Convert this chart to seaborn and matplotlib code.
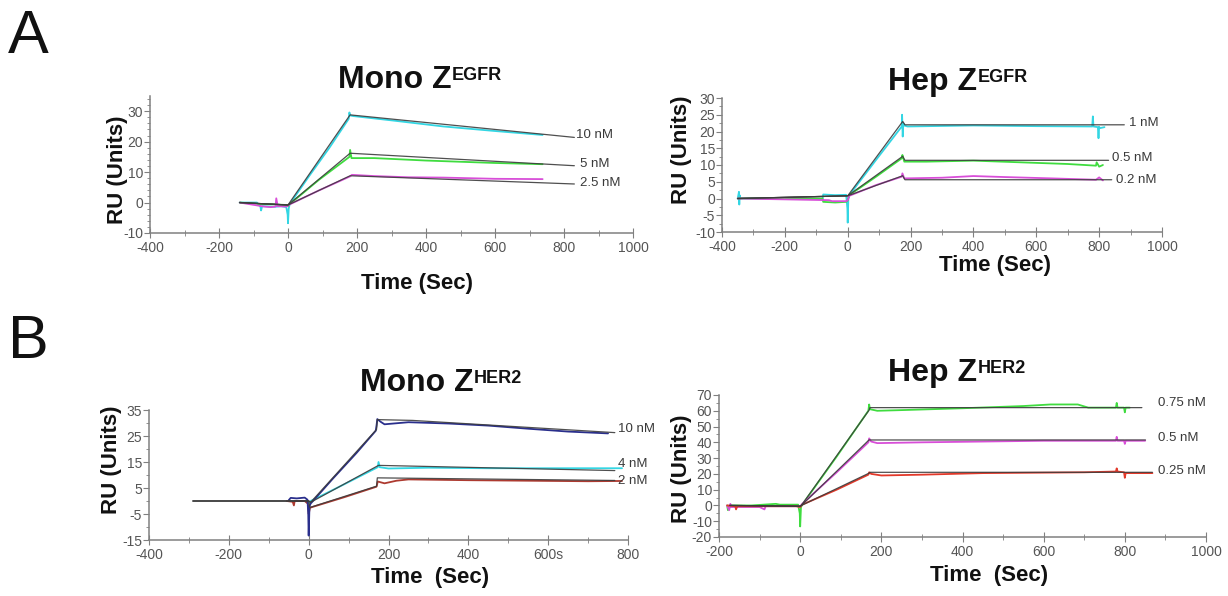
import matplotlib
matplotlib.use("Agg")
import matplotlib.pyplot as plt
from matplotlib.ticker import MultipleLocator, FixedLocator, FixedFormatter
import seaborn as sns

# ---------------- data: Mono Z^EGFR ----------------
mE_fit_t = [-140, 0, 180, 830]
mE_fit_10 = [0, -0.8, 28.8, 21.4]
mE_fit_5 = [0, -0.8, 16.2, 12.1]
mE_fit_25 = [0, -0.8, 8.8, 6.1]
mE_cyan_t = [-140, -90, -80, -78, -75, -40, -20, -5, -1, 0, 2, 5, 60, 120, 176, 178, 180, 190, 300, 450, 600, 738]
mE_cyan_y = [0, 0, -1.3, -2.6, -1.2, -1.4, -1.2, -1.5, -4, -6.8, -2, -0.5, 8.5, 18, 27.5, 29.6, 28.6, 28.4, 27, 25, 23.5, 22.2]
mE_green_t = [-140, -80, -40, -5, 0, 5, 90, 178, 180, 184, 250, 400, 600, 738]
mE_green_y = [0, -0.5, -0.6, -0.8, -1.2, -0.5, 7.5, 15, 17.3, 14.6, 14.6, 13.8, 13, 12.6]
mE_mag_t = [-140, -70, -50, -36, -34, -30, -5, 0, 5, 90, 180, 185, 250, 350, 450, 600, 738]
mE_mag_y = [0, -1.3, -1.5, -1.3, 1.4, -1.2, -1.3, -1, -0.6, 4, 8.6, 9.1, 8.7, 8.3, 8.2, 7.8, 7.7]
mE_labels = ["10 nM", "5 nM", "2.5 nM"]
mE_label_t = [835, 845, 845]
mE_label_y = [22.2, 12.7, 6.5]

# ---------------- data: Hep Z^EGFR ----------------
hE_fit1_t = [-350, 0, 175, 182, 880]
hE_fit1_y = [0, 0.8, 23, 22, 22]
hE_fit05_t = [-350, 0, 175, 182, 830]
hE_fit05_y = [0, 0.8, 12.6, 11.4, 11.4]
hE_fit02_t = [-350, 0, 175, 182, 840]
hE_fit02_y = [0, 0.8, 6.8, 5.6, 5.6]
hE_cyan_t = [-350, -346, -345, -344, -342, -300, -80, -78, -40, -5, -1, 0, 2, 5, 90, 172, 173, 175, 177, 180, 190, 400, 600, 778, 780, 782, 796, 798, 800, 802, 817]
hE_cyan_y = [0, 2, -1.8, 1, 0, 0, -0.2, 1.2, 1.0, 1.1, -3, -7.2, 0, 1, 11.5, 21.5, 25, 18.5, 22.5, 21.8, 21.5, 21.8, 21.6, 21.5, 24.5, 21.5, 21.3, 18, 21.4, 21, 21.3]
hE_green_t = [-350, -80, -78, -40, -5, 0, 5, 90, 172, 174, 180, 250, 400, 550, 700, 790, 792, 800, 812]
hE_green_y = [0, 0, -1, -1.2, -1, -0.5, 1, 6.5, 12, 13, 11, 11, 11.3, 10.8, 10.3, 9.8, 10.8, 9.5, 10]
hE_mag_t = [-350, -60, -50, -5, 0, 5, 90, 172, 174, 180, 300, 400, 500, 650, 790, 800, 812]
hE_mag_y = [0, -0.5, -0.8, -0.8, -0.5, 0.8, 4, 6.5, 7.5, 6, 6.2, 6.7, 6.4, 6, 5.6, 6.3, 5.4]
hE_labels = ["1 nM", "0.5 nM", "0.2 nM"]
hE_label_t = [895, 840, 855]
hE_label_y = [22.5, 12, 5.6]

# ---------------- data: Mono Z^HER2 ----------------
mH_fit10_t = [-290, 0, 5, 170, 172, 260, 767]
mH_fit10_y = [0, 0, -0.5, 27.5, 31.3, 31, 26.3]
mH_fit4_t = [-290, 0, 5, 175, 767]
mH_fit4_y = [0, 0, -0.5, 13.7, 11.7]
mH_fit2_t = [-290, 0, 3, 170, 172, 767]
mH_fit2_y = [0, 0, -2.5, 5.7, 8.9, 7.9]
mH_blue_t = [-50, -45, -30, -10, -3, -1, 0, 2, 5, 60, 120, 168, 170, 172, 180, 190, 250, 350, 450, 550, 650, 750]
mH_blue_y = [0.3, 1.2, 1, 1.3, 0.5, -5, -13.3, -2, -1, 8.5, 18.5, 27, 29, 31.5, 30.5, 29.5, 30.3, 29.8, 29, 27.8, 26.7, 26]
mH_cyan_t = [-50, -5, 0, 5, 90, 173, 175, 178, 200, 300, 450, 600, 785]
mH_cyan_y = [0, 0, -1, 0, 6.5, 13, 15, 13, 12.5, 12.8, 12.6, 12.6, 12.6]
mH_red_t = [-55, -40, -37, -35, -10, -2, 0, 3, 5, 90, 170, 171, 173, 190, 220, 250, 400, 550, 700, 785]
mH_red_y = [0, -0.3, -1.7, 0, 0, -1, -5, -2.8, -2.5, 1.5, 5.5, 6, 7.5, 6.8, 7.8, 8.3, 8, 7.8, 7.6, 7.7]
mH_labels = ["10 nM", "4 nM", "2 nM"]
mH_label_t = [775, 775, 775]
mH_label_y = [27.8, 14.3, 7.5]
mH_xticks = [-400, -200, 0, 200, 400, 600, 800]
mH_xticklabels = ["-400", "-200", "0", "200", "400", "600s", "800"]

# ---------------- data: Hep Z^HER2 ----------------
hH_fit75_t = [-173, 0, 3, 170, 172, 842]
hH_fit75_y = [0, -0.5, 0, 60.5, 62, 62]
hH_fit5_t = [-173, 0, 3, 170, 172, 851]
hH_fit5_y = [0, -0.5, 0, 41.6, 41.5, 41.5]
hH_fit25_t = [-173, 0, 3, 170, 172, 868]
hH_fit25_y = [0, -0.5, 0, 20.5, 21, 21]
hH_green_t = [-180, -178, -175, -120, -60, -50, -5, -1, 0, 2, 5, 90, 168, 170, 172, 190, 260, 400, 550, 617, 684, 710, 778, 780, 782, 798, 800, 802, 812]
hH_green_y = [0, -3, 0, 0, 1, 0.5, 0.5, -5, -13.3, -1, 0.5, 31, 60, 64, 61, 60, 60.5, 61.6, 63, 64, 64, 62, 62, 65, 62, 62, 59, 62, 62]
hH_mag_t = [-180, -175, -172, -170, -100, -88, -85, -10, 0, 5, 90, 168, 170, 175, 190, 300, 450, 600, 778, 780, 782, 798, 800, 802, 850]
hH_mag_y = [0, -3, 1, -1, -1, -2.5, -0.5, -0.5, -0.5, 1, 21, 40, 42.5, 40.5, 39.5, 40, 40.5, 41, 41, 43.5, 41, 41, 39, 41, 41]
hH_red_t = [-180, -160, -158, -155, -100, -10, 0, 5, 90, 168, 170, 175, 200, 300, 450, 600, 700, 778, 780, 782, 798, 800, 802, 868]
hH_red_y = [0, -0.5, -2.5, -0.5, -0.5, -0.5, -1, 0.5, 10, 19.5, 21, 20, 19, 19.5, 20.5, 20.8, 21, 21.5, 23.5, 21.5, 21, 17.5, 20.5, 20.5]
hH_labels = ["0.75 nM", "0.5 nM", "0.25 nM"]
hH_label_t = [882, 882, 882]
hH_label_y = [64.8, 43, 22]

# ---------------- styling ----------------
sns.set_style("ticks")
plt.rcParams["font.family"] = ["Liberation Sans", "DejaVu Sans"]
plt.rcParams["axes.unicode_minus"] = False

W, H = 1228, 596
fig = plt.figure(figsize=(W / 100, H / 100), dpi=100)

FIT = "#3c3c3c"
CYAN = "#33d6e3"
GREEN = "#3fdc3f"
MAG = "#d84ed8"
NAVY = "#2a2f8c"
BROWN = "#ad3a30"
RED = "#e2392a"
TICKC = "#555555"
SPINE = "#808080"


def px_axes(x0, x1, ytop, ybot):
    return fig.add_axes([x0 / W, 1 - ybot / H, (x1 - x0) / W, (ybot - ytop) / H])


def draw(ax, t, y, color, lw=1.3, alpha=1.0):
    sns.lineplot(x=t, y=y, ax=ax, color=color, linewidth=lw, alpha=alpha,
                 estimator=None, sort=False, legend=False)


def style(ax, xlim, ylim, xmaj, xmin, ymaj, ymin):
    ax.set_xlim(*xlim)
    ax.set_ylim(*ylim)
    ax.xaxis.set_major_locator(MultipleLocator(xmaj))
    ax.xaxis.set_minor_locator(MultipleLocator(xmin))
    ax.yaxis.set_major_locator(MultipleLocator(ymaj))
    ax.yaxis.set_minor_locator(MultipleLocator(ymin))
    for s in ["top", "right"]:
        ax.spines[s].set_visible(False)
    for s in ["left", "bottom"]:
        ax.spines[s].set_color(SPINE)
        ax.spines[s].set_linewidth(1.1)
    ax.tick_params(axis="x", which="major", direction="inout", length=7,
                   color=SPINE, labelsize=10, labelcolor=TICKC, pad=2)
    ax.tick_params(axis="x", which="minor", direction="inout", length=4, color=SPINE)
    ax.tick_params(axis="y", which="major", direction="out", length=4,
                   color=SPINE, labelsize=10, labelcolor=TICKC, pad=1)
    ax.tick_params(axis="y", which="minor", direction="out", length=2.5, color=SPINE)
    ax.set_xlabel("")
    ax.set_ylabel("")
    ax.patch.set_alpha(0)


def labels(ax, texts, ts, ys):
    for s, t, y in zip(texts, ts, ys):
        ax.text(t, y, s, fontsize=9.5, color="#3a3a3a", ha="left", va="center", clip_on=False)


def title(x, y, main, sup):
    t = fig.text(x / W, 1 - y / H, main, fontsize=23, fontweight="bold",
                 ha="left", va="baseline", color="#111111")
    fig.axes[0].annotate(sup, xy=(1, 1), xycoords=t, xytext=(0.5, -1.5),
                         textcoords="offset points", fontsize=13, fontweight="bold",
                         ha="left", va="top", color="#111111", annotation_clip=False)


def ftext(x, y, s, **kw):
    fig.text(x / W, 1 - y / H, s, **kw)


FLW = 0.9
FA = 0.9

# ---------------- panel A left ----------------
ax1 = px_axes(150, 633, 96, 233)
draw(ax1, mE_cyan_t, mE_cyan_y, CYAN)
draw(ax1, mE_green_t, mE_green_y, GREEN)
draw(ax1, mE_mag_t, mE_mag_y, MAG)
for fy in (mE_fit_10, mE_fit_5, mE_fit_25):
    draw(ax1, mE_fit_t, fy, FIT, FLW, FA)
style(ax1, (-400, 1000), (-10, 35), 200, 100, 10, 2)
ax1.set_yticks([-10, 0, 10, 20, 30])
labels(ax1, mE_labels, mE_label_t, mE_label_y)

# ---------------- panel A right ----------------
ax2 = px_axes(722, 1162, 98, 232)
draw(ax2, hE_cyan_t, hE_cyan_y, CYAN)
draw(ax2, hE_green_t, hE_green_y, GREEN)
draw(ax2, hE_mag_t, hE_mag_y, MAG)
draw(ax2, hE_fit1_t, hE_fit1_y, FIT, FLW, FA)
draw(ax2, hE_fit05_t, hE_fit05_y, FIT, FLW, FA)
draw(ax2, hE_fit02_t, hE_fit02_y, FIT, FLW, FA)
style(ax2, (-400, 1000), (-10, 30), 200, 100, 5, 2.5)
labels(ax2, hE_labels, hE_label_t, hE_label_y)

# ---------------- panel B left ----------------
ax3 = px_axes(149, 628, 410, 540)
draw(ax3, mH_cyan_t, mH_cyan_y, CYAN)
draw(ax3, mH_red_t, mH_red_y, BROWN)
draw(ax3, mH_blue_t, mH_blue_y, NAVY)
draw(ax3, mH_fit10_t, mH_fit10_y, FIT, FLW, FA)
draw(ax3, mH_fit4_t, mH_fit4_y, FIT, FLW, FA)
draw(ax3, mH_fit2_t, mH_fit2_y, FIT, FLW, FA)
style(ax3, (-400, 800), (-15, 35), 200, 100, 10, 5)
ax3.yaxis.set_major_locator(FixedLocator([-15, -5, 5, 15, 25, 35]))
ax3.yaxis.set_minor_locator(FixedLocator([-10, 0, 10, 20, 30]))
ax3.xaxis.set_major_locator(FixedLocator(mH_xticks))
ax3.xaxis.set_major_formatter(FixedFormatter(mH_xticklabels))
labels(ax3, mH_labels, mH_label_t, mH_label_y)

# ---------------- panel B right ----------------
ax4 = px_axes(719, 1206, 395, 537)
draw(ax4, hH_green_t, hH_green_y, GREEN)
draw(ax4, hH_mag_t, hH_mag_y, MAG)
draw(ax4, hH_red_t, hH_red_y, RED)
draw(ax4, hH_fit75_t, hH_fit75_y, FIT, FLW, FA)
draw(ax4, hH_fit5_t, hH_fit5_y, FIT, FLW, FA)
draw(ax4, hH_fit25_t, hH_fit25_y, FIT, FLW, FA)
style(ax4, (-200, 1000), (-20, 70), 200, 100, 10, 5)
labels(ax4, hH_labels, hH_label_t, hH_label_y)

# ---------------- titles & labels ----------------
title(338, 88, "Mono Z", "EGFR")
title(888, 90, "Hep Z", "EGFR")
title(360, 391, "Mono Z", "HER2")
title(888, 381, "Hep Z", "HER2")

lab = dict(fontsize=16, fontweight="bold", color="#111111", ha="center", va="center")
ftext(417, 283, "Time (Sec)", **lab)
ftext(995, 265, "Time (Sec)", **lab)
ftext(430, 578, "Time  (Sec)", **lab)
ftext(989, 575, "Time  (Sec)", **lab)
ftext(117, 170, "RU (Units)", rotation=90, **lab)
ftext(681, 150, "RU (Units)", rotation=90, **lab)
ftext(112, 460, "RU (Units)", rotation=90, **lab)
ftext(681, 469, "RU (Units)", rotation=90, **lab)

ftext(8, 53, "A", fontsize=44, color="#111111", ha="left", va="baseline")
ftext(8, 358, "B", fontsize=44, color="#111111", ha="left", va="baseline")

fig.savefig("out.png", dpi=100)
